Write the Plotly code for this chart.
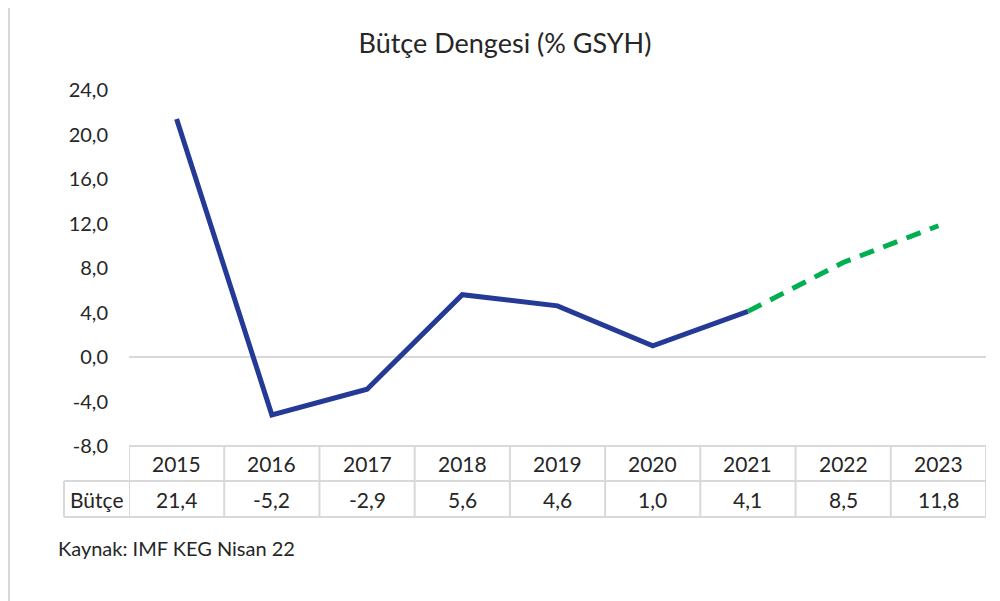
import plotly.graph_objects as go

years = ["2015", "2016", "2017", "2018", "2019", "2020", "2021", "2022", "2023"]
budget = [21.4, -5.2, -2.9, 5.6, 4.6, 1.0, 4.1, 8.5, 11.8]
actual_end = 7  # 2015..2021 actual, 2021..2023 forecast
y_ticks = [-8, -4, 0, 4, 8, 12, 16, 20, 24]
y_tick_text = ["-8,0", "-4,0", "0,0", "4,0", "8,0", "12,0", "16,0", "20,0", "24,0"]
title_text = "Bütçe Dengesi (% GSYH)"
row_label = "Bütçe"
source_text = "Kaynak: IMF KEG Nisan 22"

FONT = "Lato"
GRID = "#D9D9D9"
TXT = "#262626"
OFF = 8  # page body margin
W, H = 1000 - OFF, 601 - OFF
# screen-pixel layout of the reference
PL, PR, PT, PB = 129, 986, 90, 446
ML, MR, MT = PL - OFF, W - (PR - OFF), PT - OFF
MB = H - (PB - OFF)
PW = PR - PL
PH = PB - PT


def px_to_paper_x(px):
    return (px - PL) / PW


def px_to_paper_y(py):
    return (PB - py) / PH


def fmt(v):
    return f"{v:.1f}".replace(".", ",")


xs = list(range(len(years)))

fig = go.Figure()
fig.add_trace(go.Scatter(
    x=xs[:actual_end], y=budget[:actual_end], mode="lines",
    line=dict(color="#243A96", width=5), showlegend=False, hoverinfo="skip"))
fig.add_trace(go.Scatter(
    x=xs[actual_end - 1:], y=budget[actual_end - 1:], mode="lines",
    line=dict(color="#00B050", width=5, dash="15px,10px"), showlegend=False, hoverinfo="skip"))

shapes = []
line_style = dict(color=GRID, width=2)
# outer chart border
shapes.append(dict(type="rect", xref="paper", yref="paper",
                   x0=px_to_paper_x(9), x1=px_to_paper_x(998),
                   y0=px_to_paper_y(620), y1=px_to_paper_y(3),
                   line=dict(color=GRID, width=2), layer="below"))
row_top, row_mid, row_bot = 446, 481, 517
y_top, y_mid, y_bot = px_to_paper_y(row_top), px_to_paper_y(row_mid), px_to_paper_y(row_bot)
# horizontal table lines
shapes.append(dict(type="line", xref="x", yref="paper", x0=-0.5, x1=len(years) - 0.5,
                   y0=y_top, y1=y_top, line=line_style))
for yy in (y_mid, y_bot):
    shapes.append(dict(type="line", xref="paper", yref="paper", x0=px_to_paper_x(64), x1=1,
                       y0=yy, y1=yy, line=line_style))
# vertical lines
shapes.append(dict(type="line", xref="paper", yref="paper", x0=px_to_paper_x(64), x1=px_to_paper_x(64),
                   y0=y_mid, y1=y_bot, line=line_style))
for i in range(len(years) + 1):
    shapes.append(dict(type="line", xref="x", yref="paper", x0=i - 0.5, x1=i - 0.5,
                       y0=y_top, y1=y_bot, line=line_style))

annotations = []
yc1 = px_to_paper_y((row_top + row_mid) / 2)
yc2 = px_to_paper_y((row_mid + row_bot) / 2)
for i, (yr, v) in enumerate(zip(years, budget)):
    annotations.append(dict(x=i, y=yc1, xref="x", yref="paper", text=yr, showarrow=False,
                            font=dict(family=FONT, size=21, color=TXT), yanchor="middle"))
    annotations.append(dict(x=i, y=yc2, xref="x", yref="paper", text=fmt(v), showarrow=False,
                            font=dict(family=FONT, size=21, color=TXT), yanchor="middle"))
annotations.append(dict(x=px_to_paper_x(96.5), y=yc2, xref="paper", yref="paper", text=row_label,
                        showarrow=False, font=dict(family=FONT, size=21, color=TXT),
                        xanchor="center", yanchor="middle"))
annotations.append(dict(x=px_to_paper_x(56), y=px_to_paper_y(548), xref="paper", yref="paper",
                        text=source_text, showarrow=False, xanchor="left", yanchor="middle",
                        font=dict(family=FONT, size=20, color=TXT)))

fig.update_layout(
    width=W, height=H,
    margin=dict(l=ML, r=MR, t=MT, b=MB, pad=0),
    paper_bgcolor="white", plot_bgcolor="white",
    title=dict(text=title_text, x=(505 - OFF) / W, xref="container", xanchor="center",
               y=1 - (44 - OFF) / H, yref="container", yanchor="middle",
               font=dict(family=FONT, size=27, color=TXT)),
    xaxis=dict(range=[-0.5, len(years) - 0.5], showgrid=False, zeroline=False,
               showticklabels=False, showline=False, ticks=""),
    yaxis=dict(range=[-8, 24], tickvals=y_ticks, ticktext=y_tick_text, showgrid=False,
               zeroline=True, zerolinecolor=GRID, zerolinewidth=1.5, showline=False,
               ticks="", ticklabelstandoff=20,
               tickfont=dict(family=FONT, size=20, color=TXT)),
    shapes=shapes, annotations=annotations,
)

fig.write_html("out.html")
